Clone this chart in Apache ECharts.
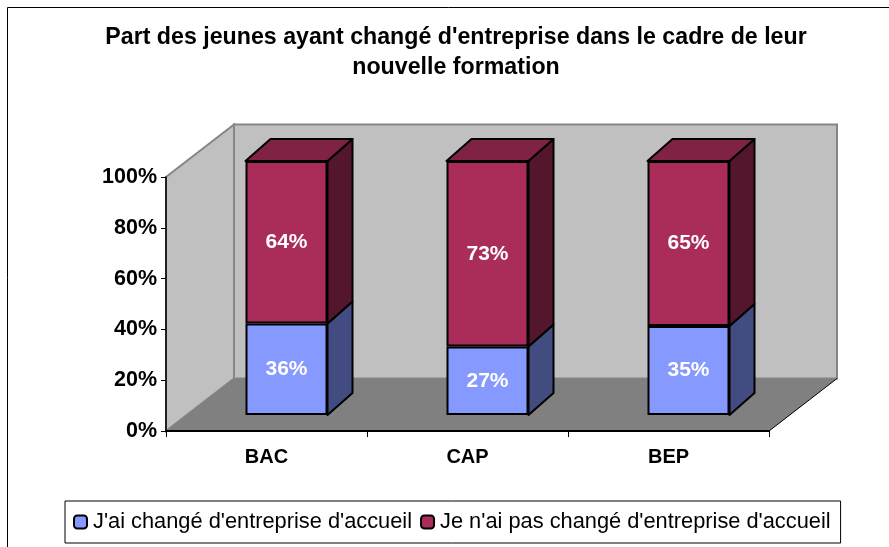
<!DOCTYPE html>
<html><head><meta charset="utf-8">
<style>html,body{margin:0;padding:0;background:#fff}#c{width:889px;height:547px}</style>
<script src="https://cdn.jsdelivr.net/npm/echarts@6/dist/echarts.min.js"></script>
</head><body><div id="c"></div>
<script>
const categories = ['BAC','CAP','BEP'];
const changed = [36,27,35];
const notChanged = [64,73,65];
const nameChanged = "J'ai changé d'entreprise d'accueil";
const nameNotChanged = "Je n'ai pas changé d'entreprise d'accueil";
const titleText = "Part des jeunes ayant changé d'entreprise dans le cadre de leur\nnouvelle formation";

const FONT = '"Liberation Sans", Arial, sans-serif';
const plot = {left:166, right:769, top:177, bottom:431};
const wallDepth = {dx:68, dy:-52.5};
const barShift = {dx:20, dy:-16};
const barDepth = {dx:25, dy:-22};
const BAR_WIDTH = 82;

const chart = echarts.init(document.getElementById('c'), null, {renderer:'canvas'});

function wallsItem(params, api){
  const p0 = api.coord([0,0]), p1 = api.coord([0,100]);
  const band = api.size([1,0])[0];
  const xL = p0[0]-band/2, xR = xL+band*categories.length, yB=p0[1], yT=p1[1];
  const d = wallDepth;
  const wall = {fill:'#C0C0C0', stroke:'#868686', lineWidth:2, lineJoin:'miter'};
  return {type:'group', children:[
    {type:'polygon', shape:{points:[[xL+d.dx,yB+d.dy],[xR+d.dx,yB+d.dy],[xR+d.dx,yT+d.dy],[xL+d.dx,yT+d.dy]]}, style:wall},
    {type:'polygon', shape:{points:[[xL,yB],[xL,yT],[xL+d.dx,yT+d.dy],[xL+d.dx,yB+d.dy]]}, style:wall},
    {type:'polygon', shape:{points:[[xL,yB],[xR,yB],[xR+d.dx,yB+d.dy],[xL+d.dx,yB+d.dy]]}, style:{fill:'#808080'}},
    {type:'line', shape:{x1:xR,y1:yB,x2:xR+d.dx,y2:yB+d.dy}, style:{stroke:'#000',lineWidth:1}}
  ]};
}

function sideFaces(sideColor, topColor){
  return function(params, api){
    const cat = api.value(0), lo = api.value(1), hi = api.value(2);
    const a = api.coord([cat,lo]), b = api.coord([cat,hi]);
    const half = BAR_WIDTH/2;
    const xr = a[0]+half, xl = a[0]-half;
    const d = barDepth;
    const border = {stroke:'#000', lineWidth:2, lineJoin:'round'};
    const kids = [{type:'polygon', shape:{points:[[xr,a[1]],[xr+d.dx,a[1]+d.dy],[xr+d.dx,b[1]+d.dy],[xr,b[1]]]}, style:Object.assign({fill:sideColor},border)}];
    if (topColor) kids.push({type:'polygon', shape:{points:[[xl,b[1]],[xr,b[1]],[xr+d.dx,b[1]+d.dy],[xl+d.dx,b[1]+d.dy]]}, style:Object.assign({fill:topColor},border)});
    return {type:'group', children:kids};
  };
}

const lowRanges = changed.map((v,i)=>[i,0,v]);
const highRanges = notChanged.map((v,i)=>[i,changed[i],changed[i]+v]);

const labelStyle = {show:true, position:'inside', color:'#fff', fontFamily:FONT, fontWeight:'bold', fontSize:21, formatter:p=>p.value+'%'};

chart.setOption({
  animation:false,
  backgroundColor:'#fff',
  title:{text:titleText, left:451, top:18, textAlign:'center',
    textStyle:{fontFamily:FONT, fontWeight:'bold', fontSize:23.2, color:'#000', lineHeight:30}},
  legend:{data:[nameChanged,nameNotChanged], left:65, top:501, orient:'horizontal',
    padding:[10,10,10,8], itemGap:8, itemWidth:13, itemHeight:13, borderColor:'#000', borderWidth:1, backgroundColor:'#fff',
    textStyle:{fontFamily:FONT, fontSize:21.8, color:'#000', padding:[0,0,0,1]}},
  grid:[
    {left:plot.left, width:plot.right-plot.left, top:plot.top, height:plot.bottom-plot.top},
    {left:plot.left+barShift.dx, width:plot.right-plot.left, top:plot.top+barShift.dy, height:plot.bottom-plot.top}
  ],
  xAxis:[
    {type:'category', data:categories, gridIndex:0, z:5, axisLine:{show:true,lineStyle:{color:'#000',width:2}},
     axisTick:{show:true, alignWithLabel:false, interval:0, length:6, lineStyle:{color:'#000',width:1}},
     axisLabel:{fontFamily:FONT,fontWeight:'bold',fontSize:20,color:'#000',margin:16}},
    {type:'category', data:categories, gridIndex:1, show:false}
  ],
  yAxis:[
    {type:'value', min:0, max:100, interval:20, gridIndex:0, z:5,
     axisLine:{show:true,lineStyle:{color:'#000',width:1.5}}, axisTick:{show:true,length:5,lineStyle:{color:'#000',width:1}}, splitLine:{show:false},
     axisLabel:{fontFamily:FONT,fontWeight:'bold',fontSize:21.5,color:'#000',margin:9,padding:[2,0,0,0],formatter:v=>v+'%'}},
    {type:'value', min:0, max:100, interval:20, gridIndex:1, show:false, splitLine:{show:false}}
  ],
  series:[
    {type:'custom', name:'walls', xAxisIndex:0, yAxisIndex:0, data:[[0,0]], renderItem:wallsItem, silent:true, z:-2, clip:false},
    {type:'custom', name:'sideLow', xAxisIndex:1, yAxisIndex:1, data:lowRanges, encode:{x:0,y:[1,2]}, renderItem:sideFaces('#424C80',null), silent:true, z:2, clip:false},
    {type:'custom', name:'sideHigh', xAxisIndex:1, yAxisIndex:1, data:highRanges, encode:{x:0,y:[1,2]}, renderItem:sideFaces('#54162D','#7F2245'), silent:true, z:2, clip:false},
    {type:'bar', name:nameChanged, stack:'s', xAxisIndex:1, yAxisIndex:1, data:changed, barWidth:BAR_WIDTH, z:3,
     itemStyle:{color:'#8599FF',borderColor:'#000',borderWidth:2}, label:labelStyle},
    {type:'bar', name:nameNotChanged, stack:'s', xAxisIndex:1, yAxisIndex:1, data:notChanged, barWidth:BAR_WIDTH, z:3,
     itemStyle:{color:'#A92C5A',borderColor:'#000',borderWidth:2}, label:labelStyle}
  ],
  graphic:[{type:'polyline', silent:true, z:-3, shape:{points:[[7.5,560],[7.5,7.5],[900,7.5]]}, style:{stroke:'#000',lineWidth:1,fill:null}}]
});
</script></body></html>
